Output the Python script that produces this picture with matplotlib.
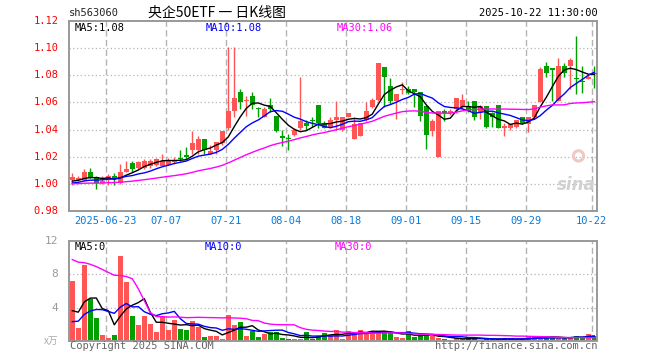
import numpy as np
import pandas as pd
import matplotlib.pyplot as plt

# daily candles, 2025-06-13 .. 2025-10-22 (88 trading days)
opens = [1.003, 1.003, 1.003, 1.009, 1.005, 1.001, 1.003, 1.006, 1.001, 1.009,
         1.015, 1.012, 1.012, 1.013, 1.014, 1.013, 1.014, 1.016, 1.019, 1.021,
         1.025, 1.025, 1.033, 1.022, 1.025, 1.030, 1.041, 1.054, 1.068, 1.061,
         1.065, 1.056, 1.049, 1.058, 1.050, 1.035, 1.034, 1.036, 1.041, 1.045,
         1.047, 1.058, 1.044, 1.042, 1.047, 1.040, 1.049, 1.033, 1.035, 1.047,
         1.057, 1.062, 1.086, 1.072, 1.061, 1.069, 1.070, 1.070, 1.068, 1.057,
         1.039, 1.020, 1.054, 1.052, 1.055, 1.057, 1.057, 1.061, 1.053, 1.057,
         1.052, 1.058, 1.041, 1.041, 1.042, 1.049, 1.044, 1.049, 1.060, 1.087,
         1.085, 1.061, 1.087, 1.087, 1.078, 1.076, 1.077, 1.082]
highs = [1.008, 1.006, 1.011, 1.012, 1.006, 1.006, 1.007, 1.008, 1.015, 1.017,
         1.017, 1.017, 1.018, 1.018, 1.019, 1.022, 1.019, 1.020, 1.025, 1.027,
         1.039, 1.035, 1.033, 1.029, 1.031, 1.039, 1.101, 1.101, 1.070, 1.065,
         1.068, 1.057, 1.057, 1.063, 1.050, 1.040, 1.037, 1.041, 1.079, 1.047,
         1.049, 1.058, 1.046, 1.049, 1.061, 1.049, 1.052, 1.049, 1.045, 1.060,
         1.063, 1.089, 1.086, 1.078, 1.066, 1.075, 1.072, 1.070, 1.068, 1.057,
         1.048, 1.054, 1.055, 1.055, 1.063, 1.066, 1.061, 1.061, 1.058, 1.057,
         1.053, 1.058, 1.045, 1.044, 1.047, 1.049, 1.049, 1.058, 1.086, 1.090,
         1.085, 1.093, 1.089, 1.093, 1.109, 1.087, 1.081, 1.087]
lows = [0.999, 1.002, 1.002, 1.004, 0.996, 1.000, 0.999, 0.999, 1.000, 1.009,
        1.009, 1.011, 1.011, 1.012, 1.013, 1.013, 1.014, 1.015, 1.017, 1.018,
        1.022, 1.022, 1.022, 1.022, 1.022, 1.029, 1.040, 1.049, 1.055, 1.050,
        1.055, 1.049, 1.049, 1.053, 1.038, 1.028, 1.025, 1.035, 1.040, 1.040,
        1.042, 1.041, 1.041, 1.041, 1.040, 1.039, 1.049, 1.033, 1.035, 1.046,
        1.056, 1.061, 1.057, 1.059, 1.048, 1.066, 1.066, 1.057, 1.046, 1.026,
        1.035, 1.020, 1.046, 1.051, 1.052, 1.055, 1.053, 1.047, 1.048, 1.041,
        1.042, 1.041, 1.035, 1.040, 1.041, 1.044, 1.038, 1.048, 1.060, 1.079,
        1.061, 1.061, 1.079, 1.070, 1.066, 1.067, 1.077, 1.071]
closes = [1.005, 1.004, 1.009, 1.004, 1.001, 1.002, 1.006, 1.004, 1.009, 1.011,
          1.011, 1.016, 1.017, 1.017, 1.018, 1.017, 1.017, 1.017, 1.018, 1.020,
          1.030, 1.033, 1.025, 1.024, 1.031, 1.039, 1.054, 1.063, 1.060, 1.062,
          1.058, 1.055, 1.055, 1.055, 1.039, 1.034, 1.033, 1.040, 1.046, 1.043,
          1.046, 1.045, 1.041, 1.047, 1.049, 1.049, 1.052, 1.044, 1.045, 1.054,
          1.062, 1.089, 1.079, 1.061, 1.066, 1.070, 1.067, 1.068, 1.050, 1.036,
          1.046, 1.054, 1.052, 1.054, 1.063, 1.062, 1.054, 1.049, 1.057, 1.042,
          1.049, 1.041, 1.043, 1.044, 1.047, 1.045, 1.049, 1.058, 1.085, 1.082,
          1.084, 1.087, 1.082, 1.091, 1.077, 1.075, 1.079, 1.081]
# volume, unit 10k lots
volumes = [7.16, 1.60, 9.16, 5.08, 2.80, 0.76, 0.40, 0.68, 10.24, 7.12,
           3.04, 1.96, 3.04, 2.08, 1.12, 3.04, 1.36, 2.56, 1.48, 1.36,
           2.44, 1.72, 0.44, 0.56, 0.64, 0.28, 3.16, 1.88, 2.32, 0.64,
           1.20, 0.52, 0.88, 1.04, 1.04, 0.40, 0.28, 0.28, 0.20, 1.04,
           0.20, 0.64, 1.00, 0.76, 1.36, 0.24, 1.24, 1.12, 1.36, 1.12,
           1.04, 1.16, 1.24, 0.92, 0.48, 0.40, 1.24, 0.44, 0.64, 0.80,
           0.64, 0.36, 0.24, 0.12, 0.36, 0.24, 0.36, 0.36, 0.12, 0.24,
           0.20, 0.20, 0.36, 0.20, 0.16, 0.28, 0.44, 0.64, 0.64, 0.36,
           0.36, 0.36, 0.36, 0.52, 0.64, 0.36, 0.84, 0.64]

# the 29 sessions before the window, only needed for the moving averages
close_before = [1.000, 1.001, 1.002, 1.001, 1.000, 0.999, 1.000, 1.001, 1.000, 0.999,
                1.000, 1.001, 1.000, 0.999, 0.998, 0.999, 1.000, 0.999, 0.998, 0.999,
                0.999, 0.998, 0.999, 1.000, 1.000, 1.001, 1.002, 1.001, 1.001]
vol_before = [11.0, 11.0, 11.0, 11.0, 11.0, 11.0, 11.0, 11.0, 11.0, 11.0,
              38.0, 46.0, 45.0, 15.0, 4.0, 2.5, 2.0, 2.5, 3.0, 2.0,
              1.0, 1.0, 1.0, 1.0, 1.0, 2.5, 3.0, 2.8, 2.74]

tick_pos = [6, 16, 26, 36, 46, 56, 66, 76, 87]
tick_labels = ["2025-06-23", "07-07", "07-21", "08-04", "08-18",
               "09-01", "09-15", "09-29", "10-22"]

RED = "#ff5555"
GREEN = "#00a000"
FRAME = "#999999"
MONO = "DejaVu Sans Mono"

n = len(closes)
x = np.arange(n)
o = np.array(opens)
c = np.array(closes)
up = c >= o
colors = [RED if u else GREEN for u in up]


def ma(before, values, w):
    s = pd.Series(list(before) + list(values))
    return s.rolling(w).mean().values[-len(values):]


W, H = 660, 360
fig = plt.figure(figsize=(6.6, 3.6), dpi=100)
fig.patch.set_facecolor("white")


def px(x0, y0, w, h):
    return [x0 / W, 1 - (y0 + h) / H, w / W, h / H]


ax = fig.add_axes(px(69, 21, 528, 190))
vax = fig.add_axes(px(69, 241, 528, 100))

for a in (ax, vax):
    a.set_xlim(-0.55, n - 0.55)
    for s in a.spines.values():
        s.set_color(FRAME)
        s.set_linewidth(1.4)
    a.set_xticks([])
    a.set_yticks([])
    for t in tick_pos:
        a.axvline(t - 0.42, color="#b4b4b4", lw=1.0, ls=(0, (4.5, 2.5)), zorder=0)

# ---- price panel ----
ax.set_ylim(0.98, 1.12)
for lvl in np.arange(1.00, 1.101, 0.02):
    ax.axhline(lvl, color="#b4b4b4", lw=0.9, ls=(0, (1, 2)), zorder=0)

ax.vlines(x, lows, highs, colors=colors, lw=1.0, zorder=2)
body_lo = np.minimum(o, c)
body_h = np.maximum(np.abs(c - o), 0.0008)
ax.bar(x, body_h, bottom=body_lo, width=0.82, color=colors, lw=0, zorder=3)

ax.plot(x, ma(close_before, closes, 5), color="black", lw=1.0, zorder=4)
ax.plot(x, ma(close_before, closes, 10), color="#0000ff", lw=1.0, zorder=4)
ax.plot(x, ma(close_before, closes, 30), color="#ff00ff", lw=1.0, zorder=4)

for lvl in np.arange(0.98, 1.121, 0.02):
    ax.text(-0.02, lvl, "%.2f" % lvl, transform=ax.get_yaxis_transform(),
            ha="right", va="center", color="red", fontsize=7.5, family=MONO)
for t, lab in zip(tick_pos, tick_labels):
    ax.text(t - 0.42, -0.025, lab, transform=ax.get_xaxis_transform(),
            ha="center", va="top", color="#0a7ad8", fontsize=7.5, family=MONO)

# sina watermark
ax.scatter([0.965], [0.29], s=55, facecolors="none", edgecolors="#f0c8c8",
           linewidths=2.2, transform=ax.transAxes, zorder=1)
ax.text(0.997, 0.135, "sina", transform=ax.transAxes, color="#d0d0d0",
        fontsize=12, fontweight="bold", style="italic", ha="right", va="center",
        zorder=1)

# ---- volume panel ----
vax.set_ylim(0, 12)
for lvl in (4, 8):
    vax.axhline(lvl, color="#b4b4b4", lw=0.9, ls=(0, (1, 2)), zorder=0)
vax.bar(x, volumes, width=0.82, color=colors, lw=0, zorder=2)
vax.plot(x, ma(vol_before, volumes, 5), color="black", lw=1.0, zorder=3)
vax.plot(x, ma(vol_before, volumes, 10), color="#0000ff", lw=1.0, zorder=3)
vax.plot(x, ma(vol_before, volumes, 30), color="#ff00ff", lw=1.0, zorder=3)
for lvl in (12, 8, 4):
    vax.text(-0.02, lvl, str(lvl), transform=vax.get_yaxis_transform(),
             ha="right", va="center", color="#999999", fontsize=8, family=MONO)
vax.text(-0.02, 0, "x万", transform=vax.get_yaxis_transform(),
         ha="right", va="center", color="#aaaaaa", fontsize=7,
         family=["Noto Sans CJK SC", "DejaVu Sans"])


def ftext(xp, yp, s, **kw):
    fig.text(xp / W, 1 - yp / H, s, **kw)


# header
ftext(69, 13, "sh563060", ha="left", va="center", fontsize=7.5, family=MONO, color="#222222")
ftext(217, 13, "央企50ETF 一 日K线图", ha="center", va="center", fontsize=10,
      family=["Noto Sans CJK SC", "DejaVu Sans"], color="black")
ftext(598, 13, "2025-10-22 11:30:00", ha="right", va="center", fontsize=7.5,
      family=MONO, color="black")

# moving-average captions
ftext(75, 28, "MA5:%.2f" % ma(close_before, closes, 5)[-1], ha="left", va="center",
      fontsize=7.5, family=MONO, color="black")
ftext(206, 28, "MA10:%.2f" % ma(close_before, closes, 10)[-1], ha="left", va="center",
      fontsize=7.5, family=MONO, color="#0000ff")
ftext(337, 28, "MA30:%.2f" % ma(close_before, closes, 30)[-1], ha="left", va="center",
      fontsize=7.5, family=MONO, color="#ff00ff")
ftext(75, 247, "MA5:0", ha="left", va="center", fontsize=7.5, family=MONO, color="black")
ftext(205, 247, "MA10:0", ha="left", va="center", fontsize=7.5, family=MONO, color="#0000ff")
ftext(335, 247, "MA30:0", ha="left", va="center", fontsize=7.5, family=MONO, color="#ff00ff")

# footer
ftext(70, 346, "Copyright 2025 SINA.COM", ha="left", va="center", fontsize=7.5,
      family=MONO, color="#666666")
ftext(597, 346, "http://finance.sina.com.cn", ha="right", va="center", fontsize=7.5,
      family=MONO, color="#666666")

fig.savefig("out.png", dpi=100)
